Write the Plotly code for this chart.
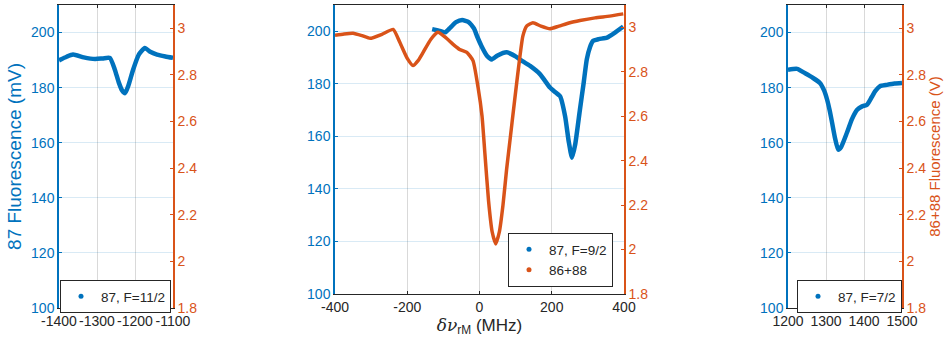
import plotly.graph_objects as go

BLUE = "#0072BD"
ORANGE = "#D95319"
DARK = "#262626"

# ---- data ----
left_x = [-1400, -1380, -1363, -1335, -1305, -1285, -1266, -1253, -1243, -1234, -1226, -1218,
          -1205, -1190, -1174, -1160, -1142, -1120, -1100]
left_y = [189.9, 191.2, 192.0, 191.0, 190.4, 190.6, 190.8, 186.5, 182.0, 179.0, 178.0, 180.5,
          186.5, 192.0, 194.4, 193.0, 192.0, 191.3, 190.8]

mid_blue_x = [-131, -115, -95, -80, -65, -48, -30, -15, -7, 5, 21, 34, 50, 75, 98, 120, 140,
              168, 195, 210, 223, 237, 247, 256, 265, 278, 288, 297, 306, 314, 330, 353, 375,
              398]
mid_blue_y = [200.8, 200.3, 199.6, 201.5, 203.5, 204.3, 203.5, 201.0, 198.2, 194.5, 190.6,
              189.3, 190.8, 192.0, 190.6, 188.5, 186.8, 183.6, 178.6, 176.8, 175.3, 167.6,
              158.0, 151.9, 157.0, 170.2, 180.0, 189.3, 194.0, 196.3, 197.0, 197.6, 199.5,
              201.8]

mid_orange_x = [-400, -375, -350, -325, -303, -270, -239, -220, -200, -184, -170, -156, -135,
                -115, -95, -73, -55, -35, -18, -4, 7, 15, 25, 35, 45, 55, 65, 75, 85, 95, 103,
                112, 120, 131, 148, 170, 195, 220, 250, 278, 320, 360, 398]
mid_orange_y = [2.964, 2.970, 2.973, 2.962, 2.950, 2.968, 2.990, 2.930, 2.860, 2.828, 2.850,
                2.887, 2.945, 2.977, 2.955, 2.923, 2.900, 2.887, 2.850, 2.730, 2.600, 2.430,
                2.220, 2.080, 2.025, 2.080, 2.200, 2.360, 2.500, 2.640, 2.750, 2.870, 2.960,
                3.006, 3.020, 3.005, 2.993, 3.005, 3.020, 3.030, 3.042, 3.050, 3.060]

right_x = [1200, 1224, 1245, 1266, 1284, 1295, 1303, 1310, 1316, 1324, 1332, 1340, 1355, 1368,
           1382, 1395, 1408, 1420, 1430, 1442, 1460, 1480, 1500]
right_y = [186.5, 186.8, 185.2, 183.5, 181.7, 179.0, 175.6, 171.5, 167.3, 161.5, 157.5, 158.5,
           163.6, 168.5, 172.0, 173.2, 173.8, 176.5, 178.8, 180.5, 181.0, 181.5, 181.7]

left_ticks_x = [-1400, -1300, -1200, -1100]
mid_ticks_x = [-400, -200, 0, 200, 400]
right_ticks_x = [1200, 1300, 1400, 1500]
left_ticks_y = [100, 120, 140, 160, 180, 200]
right_ticks_y = [1.8, 2.0, 2.2, 2.4, 2.6, 2.8, 3.0]
right_tick_text = ["1.8", "2", "2.2", "2.4", "2.6", "2.8", "3"]

W, H = 948, 350
FONT = "Liberation Sans, Arial, Helvetica, sans-serif"
TICK_SIZE = 14

fig = go.Figure()

def line(x, y, xa, ya, color, width):
    fig.add_trace(go.Scatter(x=x, y=y, xaxis=xa, yaxis=ya, mode="lines",
                             line=dict(color=color, width=width, shape="spline", smoothing=0.5),
                             showlegend=False))

def legend_entry(name, color, xa, ya, legend):
    fig.add_trace(go.Scatter(x=[None], y=[None], xaxis=xa, yaxis=ya, mode="markers",
                             marker=dict(color=color, size=5), name=name, legend=legend))

def empty(xa, ya):
    fig.add_trace(go.Scatter(x=[None], y=[None], xaxis=xa, yaxis=ya, mode="lines",
                             showlegend=False, hoverinfo="skip"))

line(left_x, left_y, "x", "y", BLUE, 4.5)
legend_entry("87, F=11/2", BLUE, "x", "y", "legend")
empty("x", "y4")

line(mid_blue_x, mid_blue_y, "x2", "y2", BLUE, 4.5)
line(mid_orange_x, mid_orange_y, "x2", "y5", ORANGE, 3.5)
legend_entry("87, F=9/2", BLUE, "x2", "y2", "legend2")
legend_entry("86+88", ORANGE, "x2", "y5", "legend2")

line(right_x, right_y, "x3", "y3", BLUE, 4.5)
legend_entry("87, F=7/2", BLUE, "x3", "y3", "legend3")
empty("x3", "y6")

def px_x(p):
    return p / W

def px_y(p):
    return 1 - p / H

def fmt(v):
    return str(v).replace("\u2212", "-")

def xaxis(domain, rng, ticks, anchor, title=None):
    d = dict(domain=domain, range=rng, tickvals=ticks, ticktext=[fmt(t) for t in ticks],
             anchor=anchor, automargin=False,
             showline=True, linecolor=DARK, linewidth=1, mirror="ticks",
             ticks="inside", ticklen=3, tickcolor=DARK, tickangle=0,
             tickfont=dict(family=FONT, size=TICK_SIZE, color=DARK),
             showgrid=True, gridcolor="rgba(0,0,0,0.15)", gridwidth=1, zeroline=False)
    if title:
        d["title"] = dict(text=title, font=dict(family=FONT, size=17, color=DARK), standoff=4)
    return d

def yleft(domain, anchor, title=None):
    d = dict(domain=domain, range=[100, 210], tickvals=left_ticks_y, anchor=anchor,
             automargin=False,
             showline=True, linecolor=BLUE, linewidth=1.5, ticks="inside", ticklen=3,
             tickcolor=BLUE, tickfont=dict(family=FONT, size=TICK_SIZE, color=BLUE),
             showgrid=True, gridcolor="rgba(0,114,189,0.15)", gridwidth=1, zeroline=False)
    if title:
        d["title"] = dict(text=title, font=dict(family=FONT, size=19, color=BLUE), standoff=4)
    return d

def yright(overlay, anchor, title=None):
    d = dict(overlaying=overlay, anchor=anchor, side="right", range=[1.8, 3.1],
             automargin=False,
             tickvals=right_ticks_y, ticktext=right_tick_text,
             showline=True, linecolor=ORANGE, linewidth=1.5, ticks="inside", ticklen=3,
             tickcolor=ORANGE, tickfont=dict(family=FONT, size=TICK_SIZE, color=ORANGE),
             showgrid=False, zeroline=False)
    if title:
        d["title"] = dict(text=title, font=dict(family=FONT, size=15, color=ORANGE), standoff=4)
    return d

dom_y_side = [px_y(308), px_y(5)]
dom_y_mid = [px_y(294), px_y(5)]

legend_style = dict(bgcolor="white", bordercolor=DARK, borderwidth=1,
                    font=dict(family=FONT, size=13.5, color=DARK),
                    itemwidth=30, tracegroupgap=0)

xtitle = ("<span style='font-family:\"DejaVu Serif\", serif'><i>δν</i></span>"
          "<sub>rM</sub> (MHz)")

fig.update_layout(
    width=W, height=H,
    margin=dict(l=0, r=0, t=0, b=0),
    paper_bgcolor="white", plot_bgcolor="white",
    xaxis=xaxis([px_x(59), px_x(173)], [-1400, -1100], left_ticks_x, "y"),
    xaxis2=xaxis([px_x(335), px_x(624)], [-400, 400], mid_ticks_x, "y2", title=xtitle),
    xaxis3=xaxis([px_x(788), px_x(902)], [1200, 1500], right_ticks_x, "y3"),
    yaxis=yleft(dom_y_side, "x", title="87 Fluorescence (mV)"),
    yaxis2=yleft(dom_y_mid, "x2"),
    yaxis3=yleft(dom_y_side, "x3"),
    yaxis4=yright("y", "x"),
    yaxis5=yright("y2", "x2"),
    yaxis6=yright("y3", "x3", title="86+88 Fluorescence (V)"),
    legend=dict(x=px_x(60), y=px_y(280), xanchor="left", yanchor="top", **legend_style),
    legend2=dict(x=px_x(613), y=px_y(287), xanchor="right", yanchor="bottom", **legend_style),
    legend3=dict(x=px_x(797), y=px_y(280), xanchor="left", yanchor="top", **legend_style),
)

# the page is exactly the size of the window, so drop the browser's default body margin
fig.write_html("out.html", config={"displayModeBar": False},
               post_script="document.body.style.margin='0';document.body.style.overflow='hidden';")
